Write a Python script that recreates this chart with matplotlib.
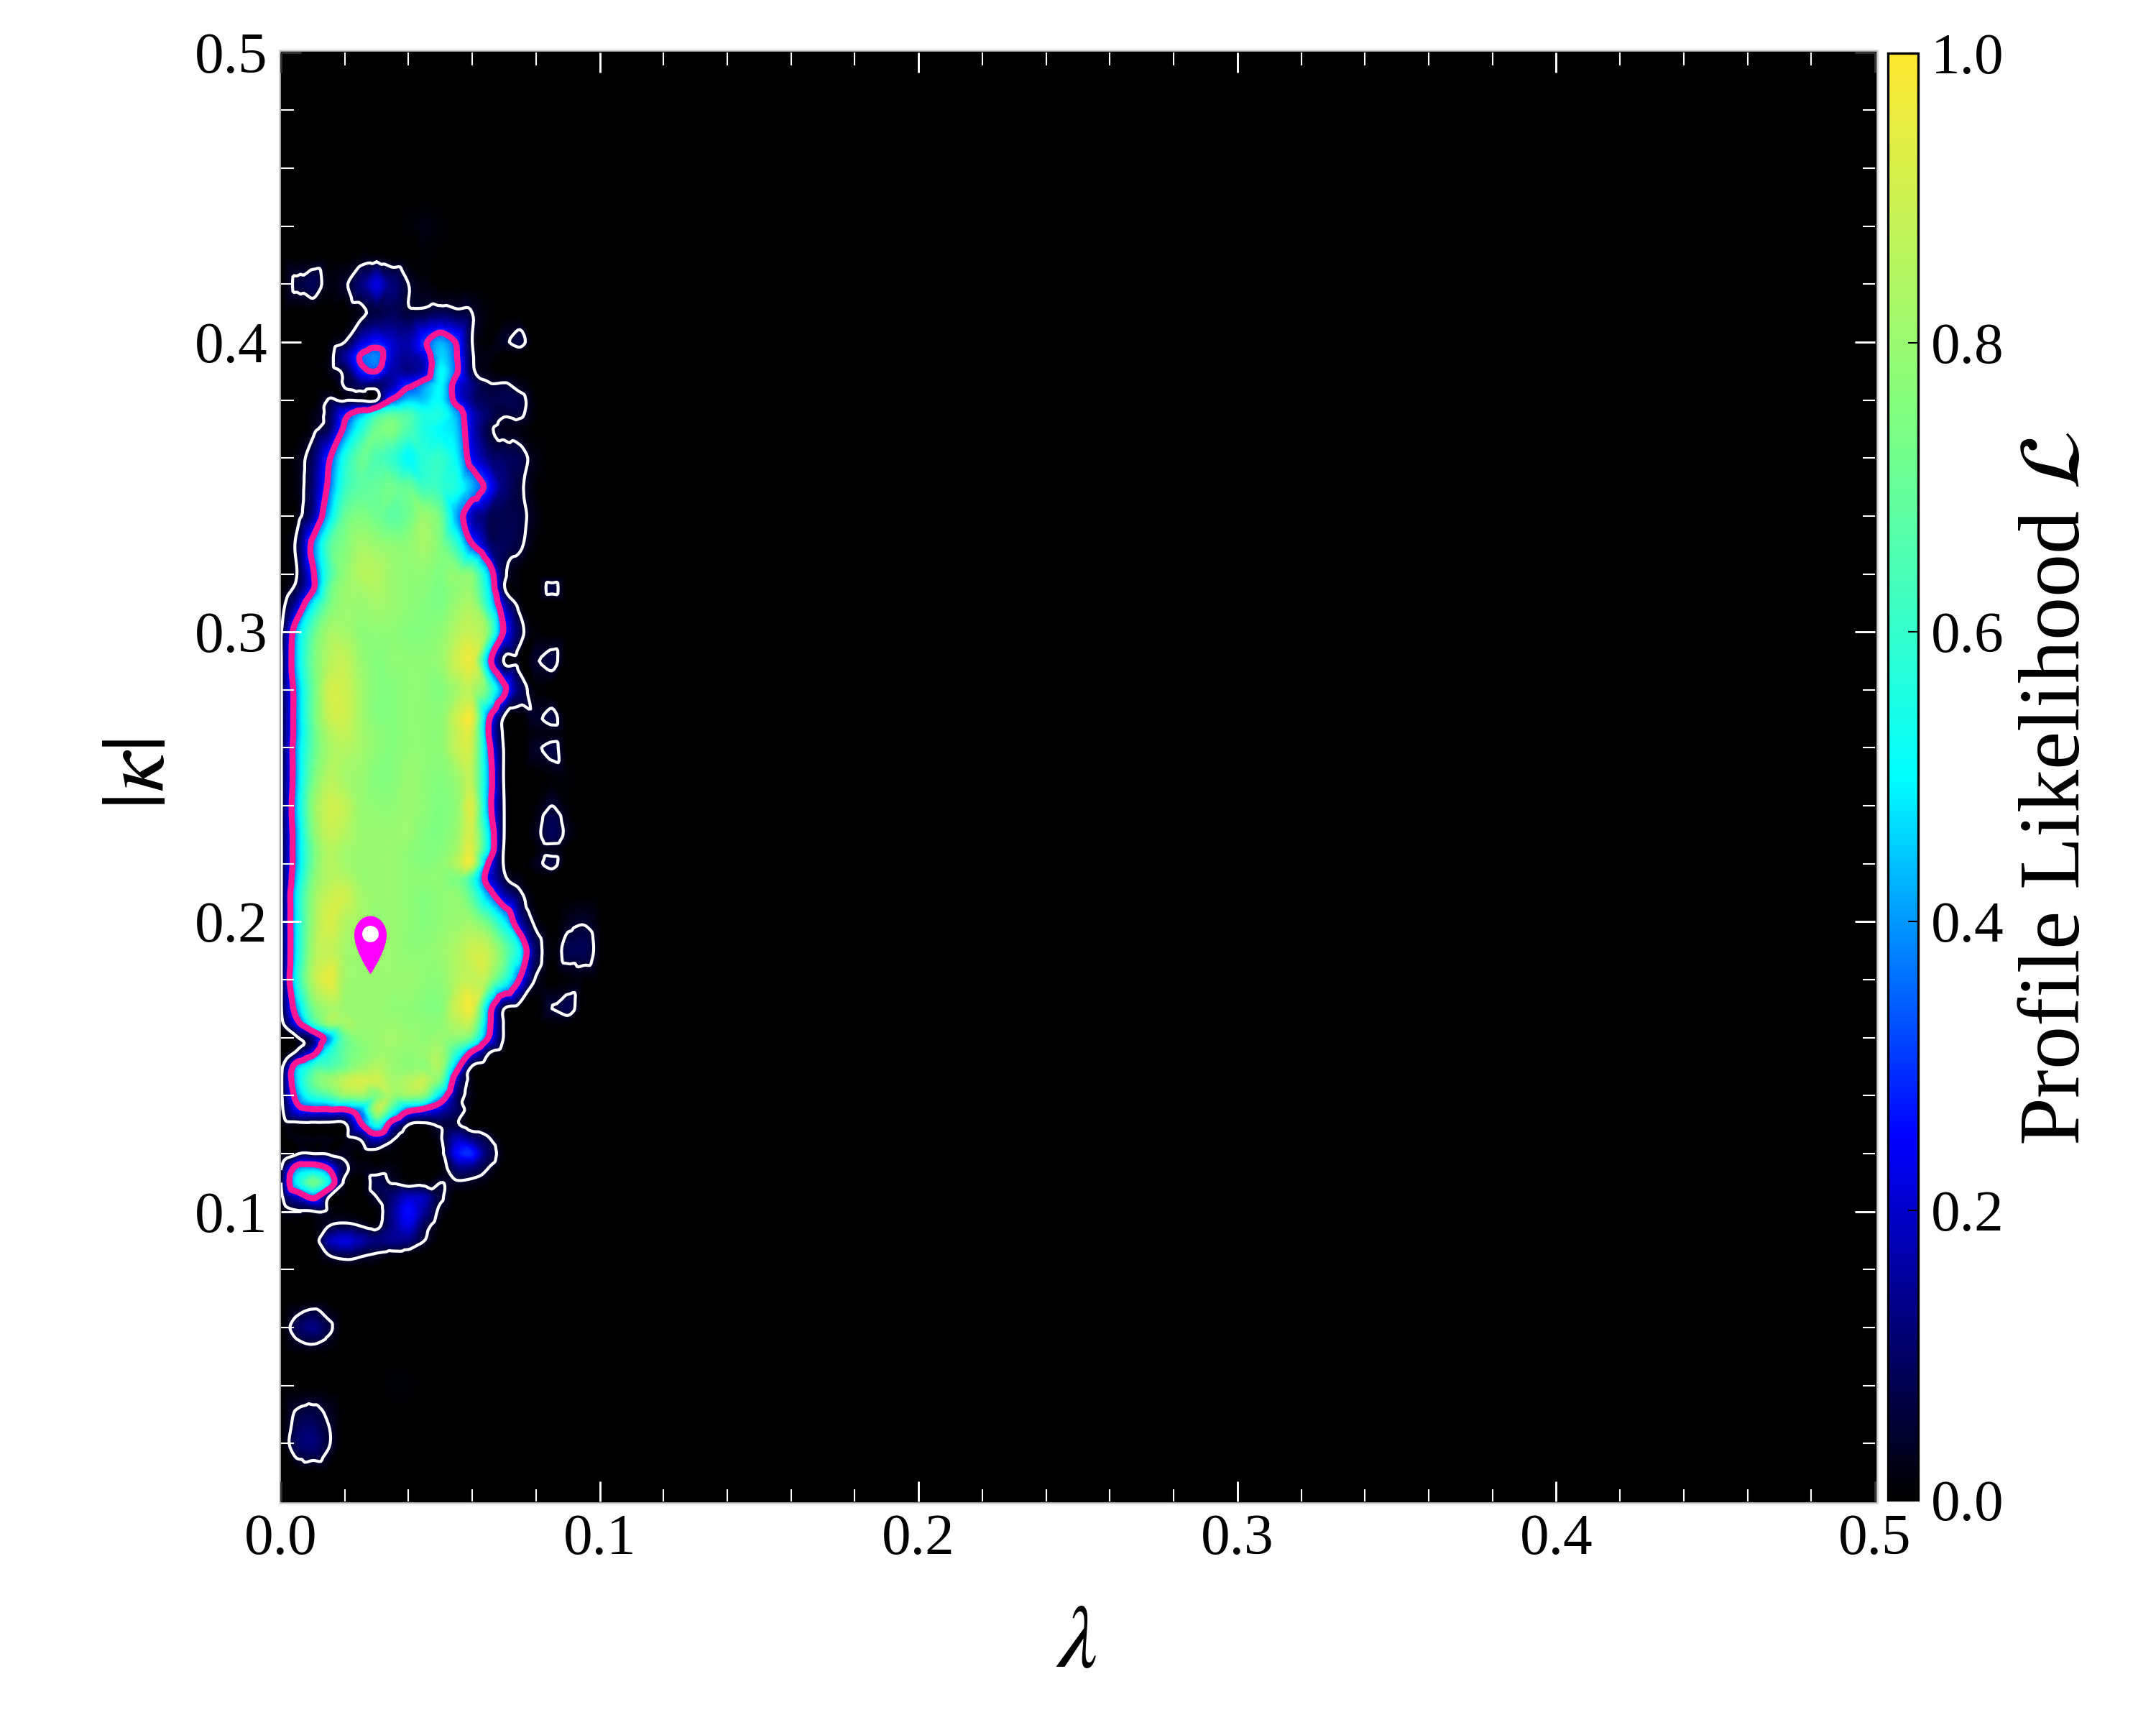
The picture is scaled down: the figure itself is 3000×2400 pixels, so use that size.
import numpy as np
import matplotlib
matplotlib.use("Agg")
import matplotlib.pyplot as plt
import matplotlib.tri as mtri
from matplotlib.colors import LinearSegmentedColormap
from matplotlib.patches import Rectangle
from matplotlib.path import Path

plt.rcParams['font.family'] = ['Liberation Serif', 'DejaVu Serif']
plt.rcParams['mathtext.fontset'] = 'stix'

# grid, likelihood in percent
lam_vals = [0.000, 0.005, 0.010, 0.015, 0.020, 0.025, 0.030, 0.035, 0.040, 0.045, 0.050,
            0.055, 0.060, 0.065, 0.070, 0.075, 0.080, 0.085, 0.090, 0.095, 0.100]

kappa_vals = [0.45, 0.44, 0.43, 0.42, 0.41, 0.40, 0.395, 0.39, 0.385, 0.38, 0.375, 0.37, 0.36, 0.35,
              0.34, 0.33, 0.32, 0.315, 0.31, 0.30, 0.29, 0.28, 0.27, 0.265, 0.26, 0.25, 0.24, 0.23,
              0.225, 0.22, 0.215, 0.21, 0.20, 0.19, 0.18, 0.17, 0.165, 0.16, 0.155, 0.15, 0.145,
              0.14, 0.135, 0.13, 0.125, 0.12, 0.115, 0.11, 0.105, 0.10, 0.095, 0.09, 0.085, 0.08,
              0.07, 0.065, 0.06, 0.055, 0.05, 0.04, 0.03, 0.02, 0.01, 0.00]

lik_rows = [
    [0, 0, 0, 0, 0, 0, 0, 0, 0, 0, 0, 0, 0, 0, 0, 0, 0, 0, 0, 0, 0],
    [0, 0, 0, 0, 0, 0, 0, 0, 1, 2, 1, 0, 0, 0, 0, 0, 0, 0, 0, 0, 0],
    [0, 0, 0, 0, 0, 1, 1, 0, 0, 1, 0, 0, 0, 0, 0, 0, 0, 0, 0, 0, 0],
    [0, 6, 9, 2, 4, 12, 22, 12, 5, 2, 0, 0, 0, 0, 0, 0, 0, 0, 0, 0, 0],
    [0, 0, 0, 0, 0, 3, 7, 9, 6, 7, 9, 7, 5, 1, 0, 0, 0, 0, 0, 0, 0],
    [0, 0, 0, 1, 5, 20, 27, 20, 17, 30, 42, 31, 5, 1, 4, 7, 0, 0, 0, 0, 0],
    [0, 0, 0, 2, 15, 33, 38, 20, 15, 22, 46, 33, 6, 2, 0, 0, 0, 0, 0, 0, 0],
    [0, 0, 0, 2, 7, 27, 32, 17, 14, 20, 50, 34, 7, 2, 0, 0, 0, 0, 0, 0, 0],
    [0, 0, 0, 0, 5.5, 10, 9, 18, 30, 40, 50, 25, 13, 6, 6, 3, 0, 0, 0, 0, 0],
    [0, 0, 0, 5.5, 4, 4, 4.5, 34, 45, 45, 50, 27, 13, 8, 8, 7, 1, 0, 0, 0, 0],
    [0, 0, 2, 8, 28, 42, 60, 68, 65, 55, 55, 42, 20, 10, 5.5, 6, 1, 0, 0, 0, 0],
    [0, 0, 3, 10, 35, 55, 72, 75, 65, 55, 50, 45, 20, 7, 3, 2, 0, 0, 0, 0, 0],
    [0, 2, 10, 30, 55, 70, 65, 60, 50, 58, 60, 50, 25, 13, 10, 8, 2, 0, 0, 0, 0],
    [0, 2, 12, 35, 60, 68, 70, 72, 70, 62, 60, 55, 42, 28, 12, 6, 1, 0, 0, 0, 0],
    [0, 2, 15, 45, 70, 75, 72, 68, 72, 80, 72, 42, 18, 10, 8, 7, 2, 0, 0, 0, 0],
    [0, 7, 36, 65, 75, 82, 80, 78, 78, 82, 75, 60, 33, 14, 9, 6, 1, 0, 0, 0, 0],
    [0, 5, 30, 62, 78, 85, 85, 80, 78, 78, 75, 78, 75, 45, 7, 1, 0, 0, 0, 0, 0],
    [0, 8, 30, 68, 80, 82, 84, 80, 78, 77, 74, 78, 78, 50, 6, 1, 0, 7, 0, 0, 0],
    [1, 17, 48, 72, 80, 80, 82, 80, 78, 76, 74, 80, 82, 55, 18, 2, 0, 0, 0, 0, 0],
    [4, 42, 68, 82, 82, 78, 78, 78, 76, 76, 78, 85, 88, 75, 30, 8, 1, 0, 0, 0, 0],
    [4, 45, 72, 85, 88, 80, 76, 78, 78, 78, 80, 90, 95, 40, 4, 1, 4.5, 7, 0, 0, 0],
    [4, 40, 70, 90, 90, 82, 76, 76, 78, 78, 76, 82, 85, 68, 35, 10, 1, 0, 0, 0, 0],
    [4, 40, 70, 88, 90, 82, 76, 76, 78, 78, 78, 90, 95, 35, 3, 0, 4, 7, 0, 0, 0],
    [4, 40, 68, 84, 88, 82, 78, 76, 78, 78, 78, 88, 90, 33, 3, 0, 2, 2, 0, 0, 0],
    [4, 42, 68, 82, 85, 82, 78, 76, 78, 78, 78, 88, 88, 38, 4, 0, 4, 7, 0, 0, 0],
    [4, 42, 72, 85, 82, 80, 76, 76, 80, 78, 76, 80, 85, 42, 4, 0, 0, 1, 1, 0, 0],
    [4, 45, 78, 90, 88, 80, 78, 78, 80, 78, 75, 78, 92, 40, 5, 0, 1, 5, 1, 0, 0],
    [4, 42, 75, 88, 85, 80, 80, 80, 80, 76, 75, 80, 90, 50, 5, 0, 3, 9, 3, 0, 0],
    [4, 42, 72, 85, 82, 80, 80, 80, 78, 76, 76, 82, 92, 50, 4, 0, 1, 3, 0, 0, 0],
    [4, 42, 72, 85, 82, 80, 80, 80, 78, 76, 78, 85, 92, 32, 4, 0, 3, 7, 0, 0, 0],
    [4, 45, 75, 85, 85, 80, 80, 80, 78, 78, 78, 75, 60, 25, 7, 2, 0, 0, 0, 0, 0],
    [4, 50, 78, 88, 90, 82, 80, 80, 78, 76, 78, 78, 65, 38, 16, 6, 0, 0, 0, 0, 0],
    [4, 50, 80, 92, 85, 82, 78, 80, 78, 76, 78, 80, 80, 70, 50, 18, 3, 0, 3, 4.5, 1],
    [4, 50, 82, 88, 82, 80, 80, 80, 78, 78, 80, 84, 90, 88, 72, 50, 10, 1, 8, 8.5, 2],
    [4, 55, 85, 95, 82, 80, 80, 80, 80, 78, 78, 85, 88, 82, 60, 30, 4, 0, 1, 1, 0],
    [4, 40, 72, 82, 80, 80, 80, 78, 78, 76, 76, 90, 95, 42, 5, 0, 0, 5, 8, 0, 0],
    [2, 27, 60, 80, 82, 80, 80, 80, 78, 78, 78, 85, 85, 38, 4, 0, 0, 1, 1, 0, 0],
    [0, 4, 14, 40, 70, 78, 80, 82, 80, 78, 80, 78, 70, 32, 4, 0, 0, 0, 0, 0, 0],
    [0, 7, 25, 55, 70, 76, 80, 80, 78, 80, 82, 60, 30, 7, 1, 0, 0, 0, 0, 0, 0],
    [2, 42, 60, 65, 72, 80, 85, 80, 78, 78, 82, 40, 4, 0, 0, 0, 0, 0, 0, 0, 0],
    [3, 45, 70, 80, 88, 92, 90, 82, 85, 88, 72, 20, 2, 0, 0, 0, 0, 0, 0, 0, 0],
    [3, 38, 58, 66, 78, 80, 75, 80, 80, 75, 45, 12, 2, 0, 0, 0, 0, 0, 0, 0, 0],
    [2, 25, 30, 30, 30, 40, 85, 60, 35, 28, 20, 10, 1, 0, 0, 0, 0, 0, 0, 0, 0],
    [0, 2, 2, 2, 3, 30, 55, 22, 5, 3, 6, 6, 0, 0, 0, 0, 0, 0, 0, 0, 0],
    [0, 2, 2, 2, 2, 6, 20, 6, 0, 0, 4, 18, 13, 6, 0, 0, 0, 0, 0, 0, 0],
    [2, 4, 5, 4, 3, 1, 1, 1, 0, 0, 2, 25, 28, 10, 1, 0, 0, 0, 0, 0, 0],
    [4.5, 38, 42, 30, 7, 2, 2, 2, 0, 0, 1, 12, 12, 5, 0, 0, 0, 0, 0, 0, 0],
    [5, 50, 72, 50, 3, 0, 8, 4.5, 1, 2, 5, 4, 3, 1, 0, 0, 0, 0, 0, 0, 0],
    [2, 20, 35, 5, 1, 0, 5, 12, 20, 18, 6, 0, 0, 0, 0, 0, 0, 0, 0, 0, 0],
    [1, 4, 4.5, 3, 1, 0, 1, 14, 26, 15, 3, 0, 0, 0, 0, 0, 0, 0, 0, 0, 0],
    [0, 0, 1, 5, 7, 5, 3, 14, 22, 8, 1, 0, 0, 0, 0, 0, 0, 0, 0, 0, 0],
    [0, 0, 0, 17, 22, 17, 12, 14, 13, 5, 0, 0, 0, 0, 0, 0, 0, 0, 0, 0, 0],
    [0, 0, 0, 5, 8, 6, 4, 2, 1, 0, 0, 0, 0, 0, 0, 0, 0, 0, 0, 0, 0],
    [0, 0, 0, 0, 0, 0, 0, 0, 0, 0, 0, 0, 0, 0, 0, 0, 0, 0, 0, 0, 0],
    [0, 0, 0, 0, 0, 0, 0, 0, 0, 0, 0, 0, 0, 0, 0, 0, 0, 0, 0, 0, 0],
    [0, 4, 7, 3, 0, 0, 0, 0, 0, 0, 0, 0, 0, 0, 0, 0, 0, 0, 0, 0, 0],
    [0, 9, 13, 6.5, 0, 0, 0, 0, 0, 0, 0, 0, 0, 0, 0, 0, 0, 0, 0, 0, 0],
    [0, 4, 6, 3, 0, 0, 0, 0, 0, 0, 0, 0, 0, 0, 0, 0, 0, 0, 0, 0, 0],
    [0, 0, 0, 0, 0, 0, 0, 0, 0, 0, 0, 0, 0, 0, 0, 0, 0, 0, 0, 0, 0],
    [0, 0, 0, 0, 0, 0, 0, 1, 1, 0, 0, 0, 0, 0, 0, 0, 0, 0, 0, 0, 0],
    [0, 6, 7.5, 4, 0, 0, 0, 0, 0, 0, 0, 0, 0, 0, 0, 0, 0, 0, 0, 0, 0],
    [0, 10, 12, 5.5, 0, 0, 0, 0, 0, 0, 0, 0, 0, 0, 0, 0, 0, 0, 0, 0, 0],
    [0, 0, 0, 0, 0, 0, 0, 0, 0, 0, 0, 0, 0, 0, 0, 0, 0, 0, 0, 0, 0],
    [0, 0, 0, 0, 0, 0, 0, 0, 0, 0, 0, 0, 0, 0, 0, 0, 0, 0, 0, 0, 0],
]

best_lam = 0.028
best_kappa = 0.196

major_ticks = [0.0, 0.1, 0.2, 0.3, 0.4, 0.5]
y_major_ticks = [0.1, 0.2, 0.3, 0.4, 0.5]
minor_ticks = [0.02, 0.04, 0.06, 0.08, 0.12, 0.14, 0.16, 0.18, 0.22, 0.24, 0.26, 0.28,
               0.32, 0.34, 0.36, 0.38, 0.42, 0.44, 0.46, 0.48]
cbar_ticks = [0.0, 0.2, 0.4, 0.6, 0.8, 1.0]
contour_levels = [0.05, 0.32]

W, H = 3000, 2400


def fig_box(left, top, right, bottom):
    return [left / W, 1 - bottom / H, (right - left) / W, (bottom - top) / H]


cmap = LinearSegmentedColormap.from_list('profile', [
    (0.0, '#000000'), (0.25, '#0000ff'), (0.5, '#00ffff'),
    (0.75, '#80ff80'), (1.0, '#ffe830')])

fig = plt.figure(figsize=(10, 8), dpi=300)
fig.add_artist(Rectangle((389 / W, 1 - 2091 / H), 2223 / W, 2021 / H, transform=fig.transFigure,
                         facecolor='black', edgecolor='#cccccc', linewidth=0.6, zorder=-1))

ax = fig.add_axes(fig_box(391, 72.6, 2609, 2089))
ax.patch.set_alpha(0)
for side in ax.spines.values():
    side.set_visible(False)

lam_grid, kappa_grid = np.meshgrid(lam_vals, kappa_vals)
lik = np.array(lik_rows, dtype=float) / 100
tri = mtri.Triangulation(lam_grid.ravel() * 2, kappa_grid.ravel())
refiner = mtri.UniformTriRefiner(tri)
smooth = mtri.CubicTriInterpolator(tri, lik.ravel(), kind='geom')
fine_tri, fine_lik = refiner.refine_field(lik.ravel(), triinterpolator=smooth, subdiv=3)
fine_tri = mtri.Triangulation(fine_tri.x / 2, fine_tri.y, fine_tri.triangles)
fine_lik = np.clip(fine_lik, 0, 1)

mesh = ax.tripcolor(fine_tri, fine_lik, shading='gouraud', cmap=cmap, vmin=0, vmax=1, rasterized=True)
ax.tricontour(fine_tri, fine_lik, levels=contour_levels[:1], colors='white', linewidths=1.0)
ax.tricontour(fine_tri, fine_lik, levels=contour_levels[1:], colors='#ff1493', linewidths=2.0)

pin = Path([(0, -56), (8, -44), (22, -20), (22.5, -2), (23, 13), (12, 25), (0, 25),
            (-12, 25), (-23, 13), (-22.5, -2), (-22, -20), (-8, -44), (0, -56), (0, -56)],
           [Path.MOVETO] + [Path.CURVE4] * 12 + [Path.CLOSEPOLY])
ax.plot([best_lam], [best_kappa], marker=pin, ms=26.9, mfc='#ff00ff', mec='none', ls='none', zorder=5)
ax.plot([best_lam], [best_kappa], marker='o', ms=5.5, mfc='white', mec='none', ls='none', zorder=6)

ax.set_xlim(0, 0.5)
ax.set_ylim(0, 0.5)
ax.set_xticks(major_ticks)
ax.set_yticks(y_major_ticks)
ax.set_xticks(minor_ticks, minor=True)
ax.set_yticks(minor_ticks, minor=True)
ax.set_xticklabels(['%.1f' % t for t in major_ticks])
ax.set_yticklabels(['%.1f' % t for t in y_major_ticks])
ax.set_axisbelow(False)
ax.tick_params(which='major', direction='in', top=True, right=True, color='white', length=6.7, width=0.7,
               labelsize=19.5, labelcolor='black')
ax.tick_params(which='minor', direction='in', top=True, right=True, color='white', length=4.2, width=0.5)
ax.tick_params(axis='x', which='major', pad=4)
ax.tick_params(axis='y', which='major', pad=4.5)

# the ticks on the frame corners are barely visible in the original
edge_ticks = [ax.xaxis.get_major_ticks()[0], ax.xaxis.get_major_ticks()[-1], ax.yaxis.get_major_ticks()[-1]]
for t in edge_ticks:
    t.tick1line.set_markeredgecolor('#333333')
    t.tick2line.set_markeredgecolor('#333333')

cax = fig.add_axes(fig_box(2627, 74, 2669, 2087))
cbar = fig.colorbar(mesh, cax=cax)
cbar.set_ticks(cbar_ticks)
cbar.set_ticklabels(['%.1f' % t for t in cbar_ticks])
cbar.ax.tick_params(direction='in', length=3.4, width=0.5, color='black', labelsize=19.5, pad=4.3)
cbar.outline.set_linewidth(0.8)
cbar.solids.set_rasterized(True)

fig.text(1498 / W, 1 - 2289 / H, r'$\lambda$', fontsize=30, ha='center', va='center')
fig.text(198 / W, 1 - 1077 / H, r'$|\kappa|$', fontsize=30, rotation=90, ha='center', va='center')
fig.text(2864 / W, 1 - 1097 / H, r'Profile Likelihood $\mathcal{L}$', fontsize=28.8, rotation=90,
         ha='center', va='center')

plt.savefig('out.png', dpi=300)
plt.close()
